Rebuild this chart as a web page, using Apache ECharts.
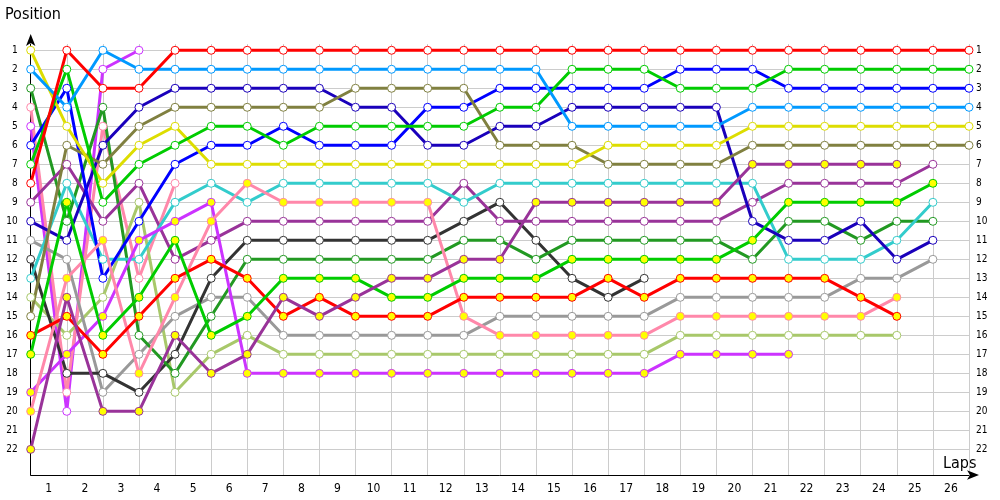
<!DOCTYPE html>
<html><head><meta charset="utf-8">
<script src="https://cdn.jsdelivr.net/npm/echarts@6/dist/echarts.min.js"></script>
<style>html,body{margin:0;padding:0;background:#fff}#c{width:1000px;height:500px}</style>
</head><body><div id="c"></div>
<script>
// Lap labels (bands between lap boundaries)
const lapLabels = ['1','2','3','4','5','6','7','8','9','10','11','12','13','14','15','16','17','18','19','20','21','22','23','24','25','26'];
const posLabels = [1,2,3,4,5,6,7,8,9,10,11,12,13,14,15,16,17,18,19,20,21,22];
// Positions at the end of each lap (index 0 = grid / start)
const carRed      = [8,1,3,3,1,1,1,1,1,1,1,1,1,1,1,1,1,1,1,1,1,1,1,1,1,1,1];
const carSky      = [2,4,1,2,2,2,2,2,2,2,2,2,2,2,2,5,5,5,5,5,4,4,4,4,4,4,4];
const carGreen    = [7,2,9,7,6,5,5,6,5,5,5,5,5,4,4,2,2,2,3,3,3,2,2,2,2,2,2];
const carBlue     = [6,3,13,10,7,6,6,5,6,6,6,4,4,3,3,3,3,3,2,2,2,3,3,3,3,3,3];
const carNavy     = [10,11,6,4,3,3,3,3,3,4,4,6,6,5,5,4,4,4,4,4,10,11,11,10,12,11];
const carOlive    = [15,6,7,5,4,4,4,4,4,3,3,3,3,6,6,6,7,7,7,7,6,6,6,6,6,6,6];
const carYellow   = [1,5,8,6,5,7,7,7,7,7,7,7,7,7,7,7,6,6,6,6,5,5,5,5,5,5,5];
const carTeal     = [13,8,12,12,9,8,9,8,8,8,8,8,9,8,8,8,8,8,8,8,8,12,12,12,11,9];
const carPurpleY  = [22,14,20,20,16,18,17,14,15,14,13,13,12,12,9,9,9,9,9,9,7,7,7,7,7];
const carPurple   = [9,7,10,8,12,11,10,10,10,10,10,10,8,10,10,10,10,10,10,10,9,8,8,8,8,7];
const carBlack    = [12,18,18,19,17,13,11,11,11,11,11,11,10,9,11,13,14,13];
const carDkGreen  = [3,10,4,16,18,15,12,12,12,12,12,12,11,11,12,11,11,11,11,11,12,10,10,11,10,10];
const carGreenY   = [17,9,16,14,11,16,15,13,13,13,14,14,13,13,13,12,12,12,12,12,11,9,9,9,9,8];
const carRedY     = [16,15,17,15,13,12,13,15,14,15,15,15,14,14,14,14,13,14,13,13,13,13,13,14,15];
const carGray     = [11,12,19,17,15,14,14,16,16,16,16,16,16,15,15,15,15,15,14,14,14,14,14,13,13,12];
const carPinkY    = [20,13,11,18,14,10,8,9,9,9,9,9,15,16,16,16,16,16,15,15,15,15,15,15,14];
const carPink     = [4,19,5,13,8];
const carLtOlive  = [14,16,14,9,19,17,16,17,17,17,17,17,17,17,17,17,17,17,16,16,16,16,16,16,16];
const carVioletY  = [19,17,15,11,10,9,18,18,18,18,18,18,18,18,18,18,18,18,17,17,17,17];
const carViolet   = [5,20,2,1];

const cars = [
  {d: carViolet,  c:'#cc33ff', f:'#ffffff'},
  {d: carPink,    c:'#ff88aa', f:'#ffffff'},
  {d: carLtOlive, c:'#a8c86a', f:'#ffffff'},
  {d: carGray,    c:'#999999', f:'#ffffff'},
  {d: carBlack,   c:'#333333', f:'#ffffff'},
  {d: carDkGreen, c:'#229922', f:'#ffffff'},
  {d: carPurple,  c:'#993399', f:'#ffffff'},
  {d: carTeal,    c:'#33cccc', f:'#ffffff'},
  {d: carNavy,    c:'#1a00bb', f:'#ffffff'},
  {d: carBlue,    c:'#0000ff', f:'#ffffff'},
  {d: carOlive,   c:'#808040', f:'#ffffff'},
  {d: carYellow,  c:'#dddd00', f:'#ffffff'},
  {d: carGreen,   c:'#00cc00', f:'#ffffff'},
  {d: carSky,     c:'#0099ff', f:'#ffffff'},
  {d: carRed,     c:'#ff0000', f:'#ffffff'},
  {d: carVioletY, c:'#cc33ff', f:'#ffff00'},
  {d: carPinkY,   c:'#ff88aa', f:'#ffff00'},
  {d: carRedY,    c:'#ff0000', f:'#ffff00'},
  {d: carGreenY,  c:'#00cc00', f:'#ffff00'},
  {d: carPurpleY, c:'#993399', f:'#ffff00'}
];

const series = cars.map(car => ({
  type: 'line',
  xAxisIndex: 0, yAxisIndex: 0,
  data: car.d.map((p, i) => [i, p]),
  symbol: 'circle', symbolSize: 8,
  showAllSymbol: true,
  lineStyle: {color: car.c, width: 3},
  itemStyle: {color: car.f, borderColor: car.c, borderWidth: 1},
  emphasis: {disabled: true},
  animation: false
}));

const font = '"DejaVu Sans Condensed", "DejaVu Sans", sans-serif';
const chart = echarts.init(document.getElementById('c'));
chart.setOption({
  backgroundColor: '#ffffff',
  animation: false,
  title: [
    {text: 'Position', left: 5, top: 7, padding: 0, textStyle: {fontSize: 16, fontWeight: 'normal', color: '#000', fontFamily: font}},
    {text: 'Laps', left: 943, top: 456, padding: 0, textStyle: {fontSize: 16, fontWeight: 'normal', color: '#000', fontFamily: font}}
  ],
  grid: {left: 30.7, right: 31, top: 44, height: 431, containLabel: false},
  xAxis: [
    {type: 'value', min: 0, max: 26, interval: 1,
     axisLabel: {show: false}, axisTick: {show: false}, axisLine: {show: false},
     splitLine: {show: true, lineStyle: {color: '#cccccc', width: 1}}},
    {type: 'category', data: lapLabels, boundaryGap: true, position: 'bottom',
     axisLine: {show: true, lineStyle: {color: '#000', width: 1}, symbol: ['none', 'arrow'], symbolSize: [7, 12], symbolOffset: [0, 10]},
     axisTick: {show: false}, splitLine: {show: false},
     axisLabel: {color: '#000', fontSize: 12, fontFamily: font, margin: 8}}
  ],
  yAxis: [
    {type: 'value', inverse: true, min: 0.67, max: 23.35, position: 'left',
     axisLine: {show: true, lineStyle: {color: '#000', width: 1}, symbol: ['none', 'arrow'], symbolSize: [7, 12], symbolOffset: [0, 10]},
     axisTick: {show: false, customValues: posLabels},
     axisLabel: {color: '#000', fontSize: 10, fontFamily: font, margin: 13, customValues: posLabels},
     splitLine: {show: true, lineStyle: {color: '#cccccc', width: 1}}},
    {type: 'value', inverse: true, min: 0.67, max: 23.35, position: 'right',
     axisLine: {show: false}, axisTick: {show: false, customValues: posLabels}, splitLine: {show: false},
     axisLabel: {color: '#000', fontSize: 10, fontFamily: font, margin: 7, customValues: posLabels}}
  ],
  series: series
});
</script>
</body></html>
